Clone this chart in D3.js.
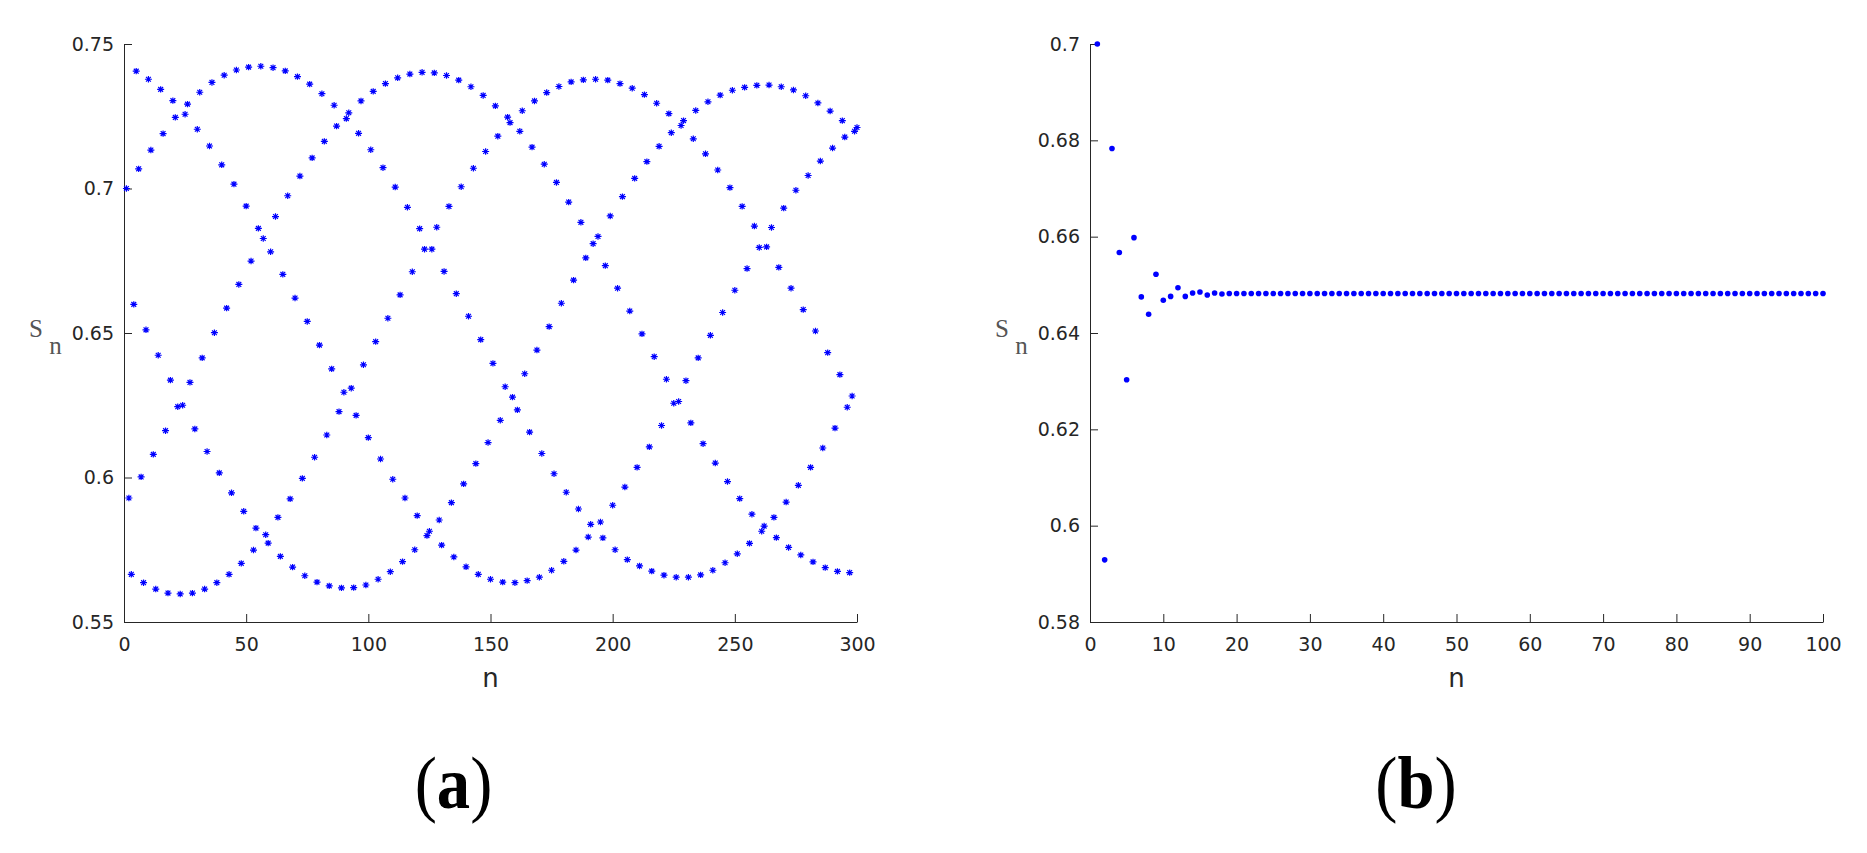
<!DOCTYPE html>
<html><head><meta charset="utf-8">
<script src="https://cdn.jsdelivr.net/npm/d3@7"></script>
<style>
html,body{margin:0;padding:0;background:#fff;}
svg{display:block;}
</style></head><body>
<svg id="c" width="1867" height="853"></svg>
<script>
// ---------- Panel (a): S_n for n = 1..300, stored as five interleaved runs (step 5) ----------
const runStartsA = [1, 2, 3, 4, 5];
const runStepA = 5;
const sA_1 = [ // n = 1, 6, ..., 296
0.7000,0.7068,0.7133,0.7190,0.7246,0.7292,0.7333,0.7367,0.7392,0.7410,
0.7420,0.7423,0.7418,0.7407,0.7387,0.7361,0.7328,0.7288,0.7242,0.7191,
0.7134,0.7072,0.7005,0.6935,0.6861,0.6790,0.6713,0.6636,0.6558,0.6477,
0.6395,0.6314,0.6234,0.6157,0.6083,0.6013,0.5949,0.5891,0.5838,0.5791,
0.5750,0.5716,0.5694,0.5676,0.5662,0.5655,0.5655,0.5663,0.5679,0.5705,
0.5736,0.5772,0.5814,0.5862,0.5915,0.5973,0.6035,0.6102,0.6171,0.6243];
const sA_2 = [ // n = 2, 7, ..., 297
0.5929,0.6002,0.6080,0.6162,0.6245,0.6329,0.6414,0.6501,0.6586,0.6668,
0.6749,0.6827,0.6903,0.6975,0.7043,0.7106,0.7163,0.7216,0.7262,0.7303,
0.7336,0.7363,0.7383,0.7396,0.7402,0.7400,0.7391,0.7375,0.7352,0.7322,
0.7286,0.7247,0.7198,0.7143,0.7084,0.7021,0.6953,0.6883,0.6809,0.6733,
0.6655,0.6576,0.6497,0.6418,0.6340,0.6263,0.6189,0.6117,0.6050,0.5986,
0.5927,0.5873,0.5832,0.5792,0.5758,0.5732,0.5708,0.5688,0.5675,0.5671];
const sA_3 = [ // n = 3, 8, ..., 298
0.5665,0.5636,0.5614,0.5600,0.5597,0.5600,0.5614,0.5636,0.5665,0.5703,
0.5749,0.5802,0.5862,0.5926,0.5997,0.6070,0.6147,0.6228,0.6309,0.6390,
0.6470,0.6551,0.6632,0.6712,0.6790,0.6866,0.6938,0.7006,0.7070,0.7128,
0.7181,0.7228,0.7269,0.7303,0.7332,0.7353,0.7369,0.7376,0.7378,0.7375,
0.7363,0.7347,0.7325,0.7295,0.7259,0.7218,0.7172,0.7120,0.7064,0.7003,
0.6938,0.6870,0.6798,0.6727,0.6655,0.6581,0.6507,0.6432,0.6356,0.6282];
const sA_4 = [ // n = 4, 9, ..., 299
0.6599,0.6511,0.6423,0.6337,0.6250,0.6168,0.6090,0.6016,0.5947,0.5883,
0.5825,0.5773,0.5727,0.5690,0.5660,0.5638,0.5625,0.5618,0.5619,0.5628,
0.5648,0.5674,0.5709,0.5750,0.5799,0.5853,0.5913,0.5978,0.6048,0.6121,
0.6198,0.6278,0.6359,0.6441,0.6522,0.6603,0.6683,0.6760,0.6834,0.6905,
0.6972,0.7035,0.7093,0.7146,0.7193,0.7235,0.7270,0.7300,0.7323,0.7340,
0.7350,0.7357,0.7358,0.7352,0.7341,0.7321,0.7296,0.7268,0.7235,0.7198];
const sA_5 = [ // n = 5, 10, ..., 300
0.7406,0.7378,0.7343,0.7304,0.7257,0.7205,0.7147,0.7082,0.7015,0.6939,
0.6862,0.6781,0.6703,0.6621,0.6540,0.6458,0.6376,0.6295,0.6215,0.6138,
0.6064,0.5994,0.5929,0.5868,0.5814,0.5766,0.5725,0.5691,0.5665,0.5648,
0.5638,0.5636,0.5643,0.5655,0.5679,0.5710,0.5749,0.5794,0.5846,0.5904,
0.5967,0.6035,0.6106,0.6180,0.6257,0.6335,0.6414,0.6492,0.6571,0.6648,
0.6723,0.6796,0.6865,0.6932,0.6994,0.7045,0.7095,0.7140,0.7178,0.7211];

const xDomainA = [0, 300];
const yDomainA = [0.55, 0.75];
const xTicksA = [0, 50, 100, 150, 200, 250, 300];
const yTicksA = [0.55, 0.6, 0.65, 0.7, 0.75];
const yTickLabelsA = ["0.55", "0.6", "0.65", "0.7", "0.75"];

// ---------- Panel (b): S_n for n = 1..100 ----------
const sB = [
0.7000,0.5929,0.6783,0.6567,0.6303,0.6598,0.6475,0.6439,0.6522,0.6468,
0.6476,0.6494,0.6476,0.6483,0.6485,0.6479,0.6483,0.6481,0.6482,0.6482,
0.6482,0.6482,0.6482,0.6482,0.6482,0.6482,0.6482,0.6482,0.6482,0.6482,
0.6482,0.6482,0.6482,0.6482,0.6482,0.6482,0.6482,0.6482,0.6482,0.6482,
0.6482,0.6482,0.6482,0.6482,0.6482,0.6482,0.6482,0.6482,0.6482,0.6482,
0.6482,0.6482,0.6482,0.6482,0.6482,0.6482,0.6482,0.6482,0.6482,0.6482,
0.6482,0.6482,0.6482,0.6482,0.6482,0.6482,0.6482,0.6482,0.6482,0.6482,
0.6482,0.6482,0.6482,0.6482,0.6482,0.6482,0.6482,0.6482,0.6482,0.6482,
0.6482,0.6482,0.6482,0.6482,0.6482,0.6482,0.6482,0.6482,0.6482,0.6482,
0.6482,0.6482,0.6482,0.6482,0.6482,0.6482,0.6482,0.6482,0.6482,0.6482];
const xDomainB = [0, 100];
const yDomainB = [0.58, 0.70];
const xTicksB = [0, 10, 20, 30, 40, 50, 60, 70, 80, 90, 100];
const yTicksB = [0.58, 0.6, 0.62, 0.64, 0.66, 0.68, 0.7];
const yTickLabelsB = ["0.58", "0.6", "0.62", "0.64", "0.66", "0.68", "0.7"];

const xLabel = "n";
const panelLabels = ["a", "b"];

// ---------- drawing ----------
const AXC = "#262626";
const BLUE = "#0000ff";
const svg = d3.select("#c");
svg.append("rect").attr("width", 1867).attr("height", 853).attr("fill", "#fff");

const xA = d3.scaleLinear().domain(xDomainA).range([124, 857]);
const yA = d3.scaleLinear().domain(yDomainA).range([622, 44]);
const xB = d3.scaleLinear().domain(xDomainB).range([1090, 1823]);
const yB = d3.scaleLinear().domain(yDomainB).range([622, 44]);

function drawAxes(x, y, xt, yt, ytl) {
  const gx = svg.append("g")
    .attr("transform", `translate(0,${y.range()[0]})`)
    .call(d3.axisBottom(x).tickValues(xt).tickFormat(d => String(d))
      .tickSize(-8).tickSizeOuter(0).tickPadding(16));
  const gy = svg.append("g")
    .attr("transform", `translate(${x.range()[0]},0)`)
    .call(d3.axisLeft(y).tickValues(yt).tickFormat((d, i) => ytl[i])
      .tickSize(-8).tickSizeOuter(0).tickPadding(10));
  [gx, gy].forEach(g => {
    g.attr("font-family", "DejaVu Sans").attr("font-size", 19);
    g.select(".domain").attr("stroke", AXC).attr("stroke-width", 1);
    g.selectAll(".tick line").attr("stroke", AXC).attr("stroke-width", 1);
    g.selectAll(".tick text").attr("fill", AXC);
  });
  // x label
  svg.append("text")
    .attr("x", (x.range()[0] + x.range()[1]) / 2).attr("y", 687)
    .attr("text-anchor", "middle").attr("font-family", "DejaVu Sans")
    .attr("font-size", 26).attr("fill", AXC).text(xLabel);
  // y label S_n (thin serif)
  const x0 = x.range()[0];
  svg.append("text").attr("x", x0 - 88).attr("y", 337)
    .attr("text-anchor", "middle").attr("font-family", "Liberation Serif")
    .attr("font-size", 25).attr("fill", "#555").text("S");
  svg.append("text").attr("x", x0 - 68.5).attr("y", 354)
    .attr("text-anchor", "middle").attr("font-family", "Liberation Serif")
    .attr("font-size", 25).attr("fill", "#555").text("n");
}

drawAxes(xA, yA, xTicksA, yTicksA, yTickLabelsA);
drawAxes(xB, yB, xTicksB, yTicksB, yTickLabelsB);

// panel (a) points
const runsA = [sA_1, sA_2, sA_3, sA_4, sA_5];
const ptsA = [];
runsA.forEach((run, i) => run.forEach((v, k) => ptsA.push({ n: runStartsA[i] + runStepA * k, v })));
const star = "M-3.5,0H3.5M0,-3.2V3.2M-2.4,-2.4L2.4,2.4M-2.4,2.4L2.4,-2.4";
svg.append("g").selectAll("path").data(ptsA).join("path")
  .attr("d", star)
  .attr("transform", d => `translate(${xA(d.n)},${yA(d.v)})`)
  .attr("fill", "none").attr("stroke", BLUE).attr("stroke-width", 1.2);

// panel (b) points
const ptsB = sB.map((v, i) => ({ n: i + 1, v }));
svg.append("g").selectAll("circle").data(ptsB).join("circle")
  .attr("cx", d => xB(d.n)).attr("cy", d => yB(d.v)).attr("r", 2.8)
  .attr("fill", BLUE);

// panel labels
const labelX = [453.5, 1416];
panelLabels.forEach((lab, i) => {
  const t = svg.append("text").attr("x", 0).attr("y", 0)
    .attr("transform", `translate(${labelX[i]},808) scale(0.9,1)`)
    .attr("text-anchor", "middle").attr("font-family", "Liberation Serif")
    .attr("font-size", 74).attr("fill", "#000");
  t.append("tspan").text("(");
  t.append("tspan").attr("font-weight", "bold").text(lab);
  t.append("tspan").text(")");
});
</script>
</body></html>
